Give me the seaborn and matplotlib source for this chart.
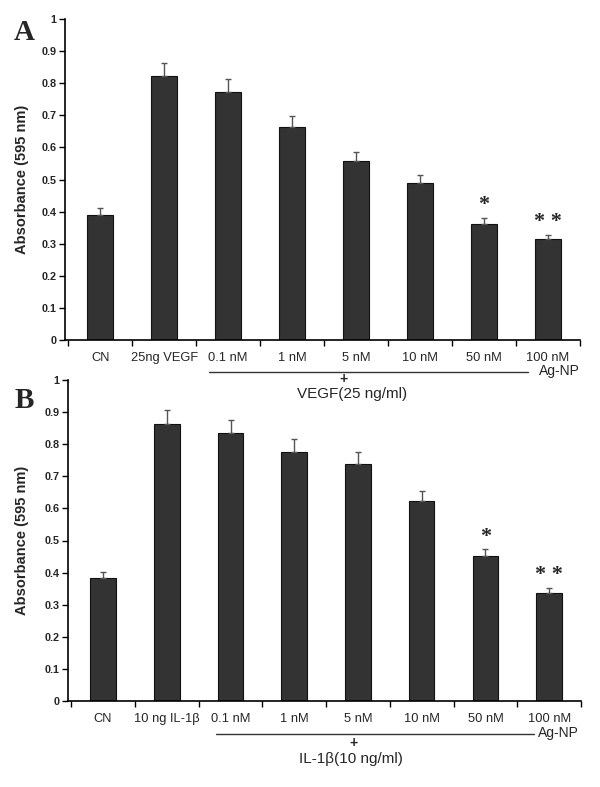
import numpy as np
import pandas as pd
import matplotlib
matplotlib.use("Agg")
import matplotlib.pyplot as plt
import seaborn as sns

sns.set_theme(style="ticks")
plt.rcParams['font.family'] = ['Liberation Sans', 'DejaVu Sans']

# ---- data ----
cats_a = ["CN", "25ng VEGF", "0.1 nM", "1 nM", "5 nM", "10 nM", "50 nM", "100 nM"]
vals_a = [0.390, 0.822, 0.773, 0.665, 0.558, 0.489, 0.362, 0.314]
err_a = [0.020, 0.040, 0.039, 0.034, 0.028, 0.026, 0.019, 0.014]
stars_a = ["", "", "", "", "", "", "*", "* *"]

cats_b = ["CN", "10 ng IL-1β", "0.1 nM", "1 nM", "5 nM", "10 nM", "50 nM", "100 nM"]
vals_b = [0.383, 0.862, 0.834, 0.776, 0.737, 0.623, 0.451, 0.335]
err_b = [0.020, 0.043, 0.040, 0.039, 0.038, 0.031, 0.021, 0.017]
stars_b = ["", "", "", "", "", "", "*", "* *"]

yticks = [0, 0.1, 0.2, 0.3, 0.4, 0.5, 0.6, 0.7, 0.8, 0.9, 1]
ytick_labels = ["0", "0.1", "0.2", "0.3", "0.4", "0.5", "0.6", "0.7", "0.8", "0.9", "1"]

fig = plt.figure(figsize=(6.0, 7.87), dpi=100)
W, H = 600, 787

def px_axes(left, top, right, bottom):
    return fig.add_axes([left / W, 1 - bottom / H, (right - left) / W, (bottom - top) / H])

def draw_panel(ax, cats, vals, errs, stars, left_px, right_px, ylab_x_px):
    df = pd.DataFrame({"cat": cats, "val": vals})
    sns.barplot(data=df, x="cat", y="val", color="#333333", saturation=1,
                width=0.4, edgecolor="#111111", linewidth=0.8, ax=ax)
    x = np.arange(len(cats))
    ax.errorbar(x, vals, yerr=[np.zeros(len(vals)), errs], fmt="none",
                ecolor="#555555", elinewidth=1.0, capsize=2.5, capthick=1.0)
    for xi, v, e, s in zip(x, vals, errs, stars):
        if s:
            ax.text(xi, v + e + 0.008, s, ha="center", va="bottom",
                    fontsize=16, fontweight="bold", family=["Liberation Serif", "DejaVu Serif"])
    ax.set_ylim(0, 1)
    ax.set_xlim(-0.55, len(cats) - 0.5)
    ax.set_yticks(yticks)
    ax.set_yticklabels(ytick_labels, fontsize=7.8, fontweight="bold")
    ax.set_xticks(x)
    ax.set_xticklabels(cats, fontsize=9.3)
    ax.set_xticks(np.arange(-0.5, len(cats), 1.0), minor=True)
    ax.tick_params(axis="x", which="major", length=0, pad=8.5)
    ax.tick_params(axis="x", which="minor", length=4, width=1.0, direction="out", color="black")
    ax.tick_params(axis="y", length=4, width=1.0, direction="out", color="black", pad=2)
    ax.set_xlabel("")
    ax.set_ylabel("Absorbance (595 nm)", fontsize=10.5, fontweight="bold")
    ax.yaxis.set_label_coords((ylab_x_px - left_px) / (right_px - left_px), 0.5)
    for sp in ["top", "right"]:
        ax.spines[sp].set_visible(False)
    for sp in ["left", "bottom"]:
        ax.spines[sp].set_color("black")
        ax.spines[sp].set_linewidth(1.2)

axa = px_axes(65, 19, 580, 340)
draw_panel(axa, cats_a, vals_a, err_a, stars_a, 65, 580, 29)
axb = px_axes(68, 380, 581, 701)
draw_panel(axb, cats_b, vals_b, err_b, stars_b, 68, 581, 29)

def ftext(xp, yp, s, **kw):
    fig.text(xp / W, 1 - yp / H, s, **kw)

# panel letters
ftext(24, 32, "A", fontsize=21, fontweight="bold", family=["Liberation Serif", "DejaVu Serif"], ha="center", va="center")
ftext(24, 400, "B", fontsize=21, fontweight="bold", family=["Liberation Serif", "DejaVu Serif"], ha="center", va="center")

# treatment brackets
def bracket(x0, x1, y, plus_x, plus_y, label_x, label_y, label, ag_x, ag_y):
    fig.add_artist(plt.Line2D([x0 / W, x1 / W], [1 - y / H, 1 - y / H], color="#333333", lw=1.0))
    ftext(ag_x, ag_y, "Ag-NP", fontsize=10, ha="left", va="center")
    ftext(plus_x, plus_y, "+", fontsize=10, fontweight="bold", ha="center", va="center")
    ftext(label_x, label_y, label, fontsize=11, ha="center", va="center")

bracket(209, 528, 372, 344, 379, 352, 394, "VEGF(25 ng/ml)", 539, 371)
bracket(216, 534, 734, 353, 743, 351, 759, "IL-1β(10 ng/ml)", 538, 733)

fig.savefig("out.png", dpi=100, facecolor="white")
